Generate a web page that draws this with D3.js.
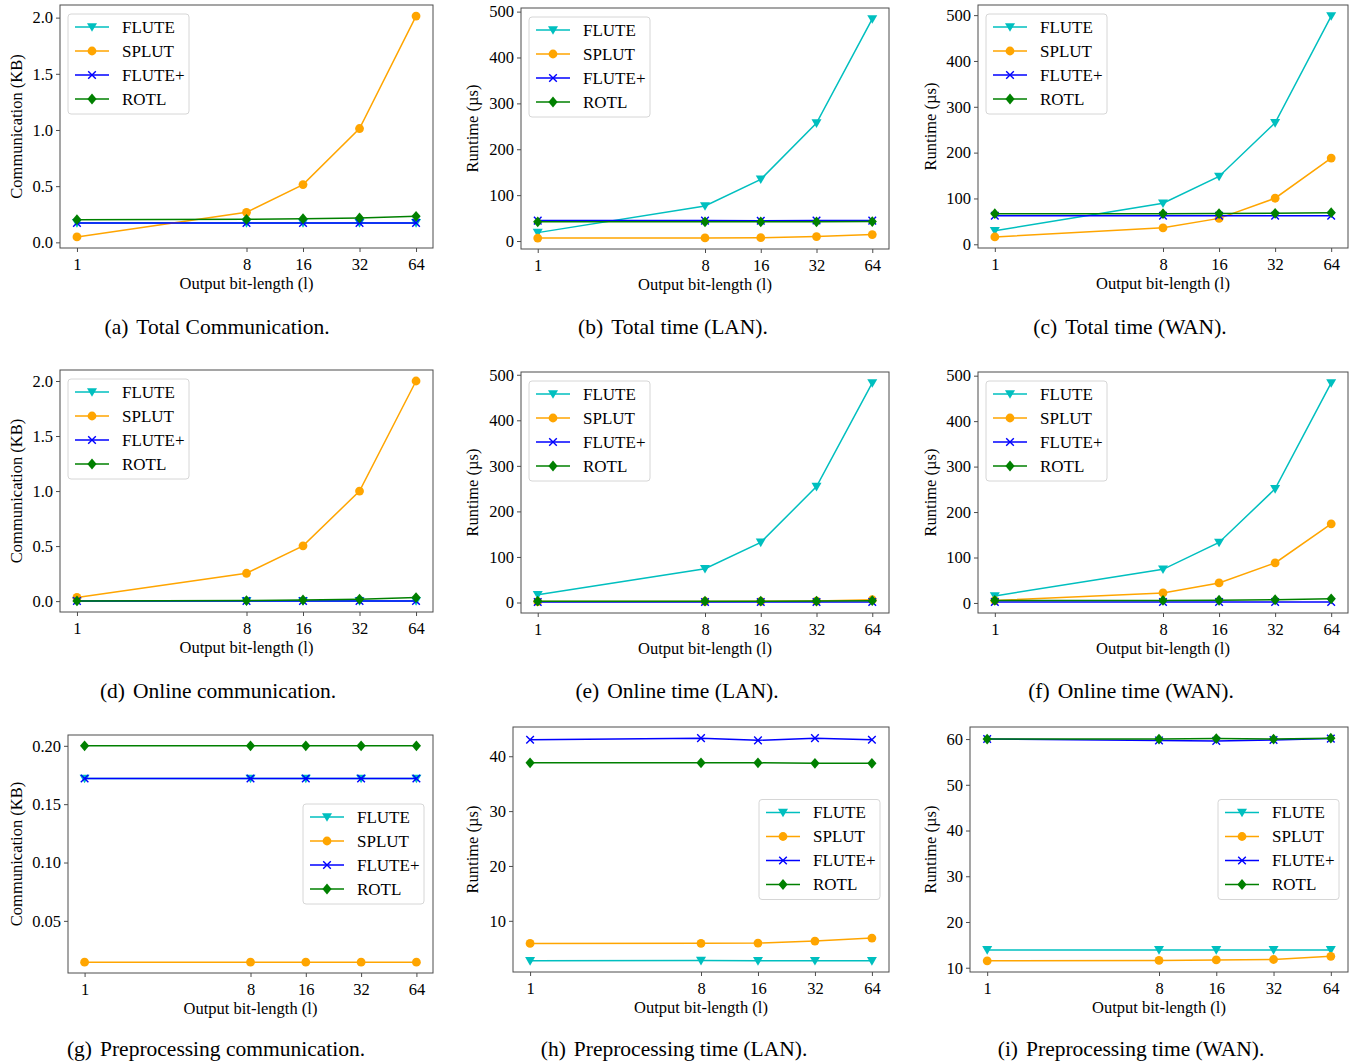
<!DOCTYPE html>
<html>
<head>
<meta charset="utf-8">
<script src="https://cdn.jsdelivr.net/npm/d3@7"></script>
<style>
  body { margin: 0; background: #fff; }
  svg { display: block; }
  text { font-family: "Liberation Serif", "DejaVu Serif", serif; fill: #000; }
</style>
</head>
<body>
<svg id="fig" width="1363" height="1061"></svg>
<script>
// x values (output bit-length) and series names
const bits = [1, 8, 16, 32, 64];
const schemes = ["FLUTE", "SPLUT", "FLUTE+", "ROTL"];

// each panel: [FLUTE, SPLUT, FLUTE+, ROTL]
const totalComm = [
  [0.173, 0.173, 0.173, 0.173, 0.173],
  [0.048, 0.267, 0.514, 1.013, 2.014],
  [0.173, 0.173, 0.173, 0.173, 0.173],
  [0.202, 0.205, 0.210, 0.217, 0.232]
];
const totalLAN = [
  [18.3, 76.5, 134.5, 257, 484],
  [6.5, 6.7, 7.3, 9.6, 14],
  [44.5, 44.5, 44.3, 44.6, 44.5],
  [41.8, 41.8, 41.8, 41.8, 42.5]
];
const totalWAN = [
  [29.4, 89.5, 148, 265, 498],
  [16, 36, 56.5, 100.5, 188],
  [62.4, 62.4, 62.4, 62.4, 62.4],
  [66.8, 66.8, 67, 67.5, 69]
];
const onlineComm = [
  [0.001, 0.001, 0.001, 0.001, 0.001],
  [0.033, 0.253, 0.502, 1.0, 2.0],
  [0.001, 0.001, 0.001, 0.001, 0.001],
  [0.002, 0.005, 0.010, 0.017, 0.032]
];
const onlineLAN = [
  [17, 74, 132, 254.5, 482],
  [2, 2.2, 2.5, 3.2, 6],
  [1, 1, 1, 1, 1],
  [3, 3, 3, 3.2, 4]
];
const onlineWAN = [
  [15.4, 74, 133, 251, 484],
  [5.3, 22, 44, 88, 174],
  [2, 2, 2, 2, 2],
  [5.5, 5.5, 6, 7, 9]
];
const preComm = [
  [0.172, 0.172, 0.172, 0.172, 0.172],
  [0.0146, 0.0146, 0.0146, 0.0146, 0.0146],
  [0.172, 0.172, 0.172, 0.172, 0.172],
  [0.200, 0.200, 0.200, 0.200, 0.200]
];
const preLAN = [
  [2.7, 2.75, 2.7, 2.72, 2.7],
  [5.88, 5.9, 5.95, 6.3, 6.85],
  [43.0, 43.3, 42.9, 43.3, 43.0],
  [38.8, 38.8, 38.8, 38.7, 38.7]
];
const preWAN = [
  [13.9, 13.9, 13.9, 13.9, 13.9],
  [11.5, 11.6, 11.7, 11.8, 12.5],
  [60.0, 59.7, 59.6, 59.8, 60.1],
  [60.0, 60.0, 60.1, 60.0, 60.2]
];

// tick labels
const commTicks = [0, 0.5, 1.0, 1.5, 2.0];
const timeTicks = [0, 100, 200, 300, 400, 500];
const preCommTicks = [0.05, 0.10, 0.15, 0.20];
const preLanTicks = [10, 20, 30, 40];
const preWanTicks = [10, 20, 30, 40, 50, 60];

const colors = ["#00bfbf", "#ffa500", "#0000ff", "#008000"];
const markers = ["tri", "circle", "x", "diamond"];

const commLabel = "Communication (KB)";
const timeLabel = "Runtime (\u00b5s)";

const panels = [
  {data: totalComm,  ticks: commTicks,    fmt: ".1f", ylab: commLabel, tag: "(a)", cap: "Total Communication.",
   box: [60, 5, 433, 248],   ylx: 17,  cx: 217, cy: 326, leg: "ul"},
  {data: totalLAN,   ticks: timeTicks,    fmt: "d",   ylab: timeLabel, tag: "(b)", cap: "Total time (LAN).",
   box: [521, 8, 889, 249], ylx: 473, cx: 673, cy: 326, leg: "ul"},
  {data: totalWAN,   ticks: timeTicks,    fmt: "d",   ylab: timeLabel, tag: "(c)", cap: "Total time (WAN).",
   box: [978, 5, 1348, 248], ylx: 931, cx: 1130, cy: 326, leg: "ul"},
  {data: onlineComm, ticks: commTicks,    fmt: ".1f", ylab: commLabel, tag: "(d)", cap: "Online communication.",
   box: [60, 370, 433, 612], ylx: 17,  cx: 218, cy: 690, leg: "ul"},
  {data: onlineLAN,  ticks: timeTicks,    fmt: "d",   ylab: timeLabel, tag: "(e)", cap: "Online time (LAN).",
   box: [521, 372, 889, 613], ylx: 473, cx: 677, cy: 690, leg: "ul"},
  {data: onlineWAN,  ticks: timeTicks,    fmt: "d",   ylab: timeLabel, tag: "(f)", cap: "Online time (WAN).",
   box: [978, 372, 1348, 613], ylx: 931, cx: 1131, cy: 690, leg: "ul"},
  {data: preComm,    ticks: preCommTicks, fmt: ".2f", ylab: commLabel, tag: "(g)", cap: "Preprocessing communication.",
   box: [68, 735, 433, 973], ylx: 17,  cx: 216, cy: 1048, leg: "cr"},
  {data: preLAN,     ticks: preLanTicks,  fmt: "d",   ylab: timeLabel, tag: "(h)", cap: "Preprocessing time (LAN).",
   box: [513, 727, 889, 972], ylx: 473, cx: 674, cy: 1048, leg: "cr"},
  {data: preWAN,     ticks: preWanTicks,  fmt: "d",   ylab: timeLabel, tag: "(i)", cap: "Preprocessing time (WAN).",
   box: [970, 727, 1348, 972], ylx: 931, cx: 1131, cy: 1048, leg: "cr"}
];

const svg = d3.select("#fig");
const spine = "#4d4d4d";
const fs = 16.5;

function drawMarker(g, kind, x, y, color) {
  if (kind === "circle") {
    g.append("circle").attr("cx", x).attr("cy", y).attr("r", 4.4).attr("fill", color);
  } else if (kind === "tri") {
    g.append("path").attr("d", `M${x-5},${y-3.8}L${x+5},${y-3.8}L${x},${y+4.8}Z`).attr("fill", color);
  } else if (kind === "diamond") {
    g.append("path").attr("d", `M${x},${y-5.4}L${x+4.6},${y}L${x},${y+5.4}L${x-4.6},${y}Z`).attr("fill", color);
  } else {
    g.append("path").attr("d", `M${x-3.8},${y-3.8}L${x+3.8},${y+3.8}M${x-3.8},${y+3.8}L${x+3.8},${y-3.8}`)
      .attr("stroke", color).attr("stroke-width", 1.4).attr("fill", "none");
  }
}

panels.forEach(function(p) {
  const [x0, y0, x1, y1] = p.box;
  const g = svg.append("g");

  // log2 x scale with matplotlib-style 5% margins
  const lx = Math.log2(bits[bits.length - 1]) - Math.log2(bits[0]);
  const x = d3.scaleLog().base(2)
    .domain([Math.pow(2, Math.log2(bits[0]) - 0.05 * lx), Math.pow(2, Math.log2(bits[bits.length - 1]) + 0.05 * lx)])
    .range([x0, x1]);

  const all = p.data.flat();
  const lo = d3.min(all), hi = d3.max(all), pad = (hi - lo) * 0.05;
  const y = d3.scaleLinear().domain([lo - pad, hi + pad]).range([y1, y0]);

  // series
  p.data.forEach(function(vals, si) {
    const pts = bits.map((b, i) => [x(b), y(vals[i])]);
    g.append("path")
      .attr("d", d3.line()(pts))
      .attr("fill", "none")
      .attr("stroke", colors[si])
      .attr("stroke-width", 1.5);
    pts.forEach(pt => drawMarker(g, markers[si], pt[0], pt[1], colors[si]));
  });

  // frame
  g.append("rect").attr("x", x0).attr("y", y0).attr("width", x1 - x0).attr("height", y1 - y0)
    .attr("fill", "none").attr("stroke", spine).attr("stroke-width", 1);

  // x axis
  const xa = g.append("g").attr("transform", `translate(0,${y1})`)
    .call(d3.axisBottom(x).tickValues(bits).tickFormat(d3.format("d")).tickSize(4).tickSizeOuter(0));
  xa.select(".domain").remove();
  xa.selectAll("line").attr("stroke", spine);
  xa.selectAll("text").attr("font-size", fs).attr("dy", "0.95em").attr("y", 6);

  // y axis
  const ya = g.append("g").attr("transform", `translate(${x0},0)`)
    .call(d3.axisLeft(y).tickValues(p.ticks).tickFormat(d3.format(p.fmt)).tickSize(4).tickSizeOuter(0));
  ya.select(".domain").remove();
  ya.selectAll("line").attr("stroke", spine);
  ya.selectAll("text").attr("font-size", fs).attr("x", -7);

  // axis labels
  g.append("text").attr("x", (x0 + x1) / 2).attr("y", y1 + 41)
    .attr("text-anchor", "middle").attr("font-size", fs).text("Output bit-length (l)");
  g.append("text")
    .attr("transform", `translate(${p.ylx + 5},${(y0 + y1) / 2}) rotate(-90)`)
    .attr("text-anchor", "middle").attr("font-size", fs).text(p.ylab);

  // legend
  const lw = 121, lh = 100;
  const lxp = p.leg === "ul" ? x0 + 8 : x1 - 9 - lw;
  const lyp = p.leg === "ul" ? y0 + 9 : (y0 + y1) / 2 - lh / 2;
  const lg = g.append("g").attr("transform", `translate(${lxp},${lyp})`);
  lg.append("rect").attr("width", lw).attr("height", lh).attr("rx", 3)
    .attr("fill", "#fff").attr("fill-opacity", 0.85).attr("stroke", "#d6d6d6");
  schemes.forEach(function(name, si) {
    const ey = 13 + si * 24;
    lg.append("line").attr("x1", 7).attr("x2", 41).attr("y1", ey).attr("y2", ey)
      .attr("stroke", colors[si]).attr("stroke-width", 1.5);
    drawMarker(lg, markers[si], 24, ey, colors[si]);
    lg.append("text").attr("x", 54).attr("y", ey).attr("dy", "0.35em")
      .attr("font-size", 17).text(name);
  });

  // caption
  const cap = svg.append("text").attr("x", p.cx).attr("y", p.cy).attr("dy", "0.35em")
    .attr("text-anchor", "middle").attr("font-size", 21.5);
  cap.append("tspan").text(p.tag);
  cap.append("tspan").attr("dx", 8).text(p.cap);
});
</script>
</body>
</html>
